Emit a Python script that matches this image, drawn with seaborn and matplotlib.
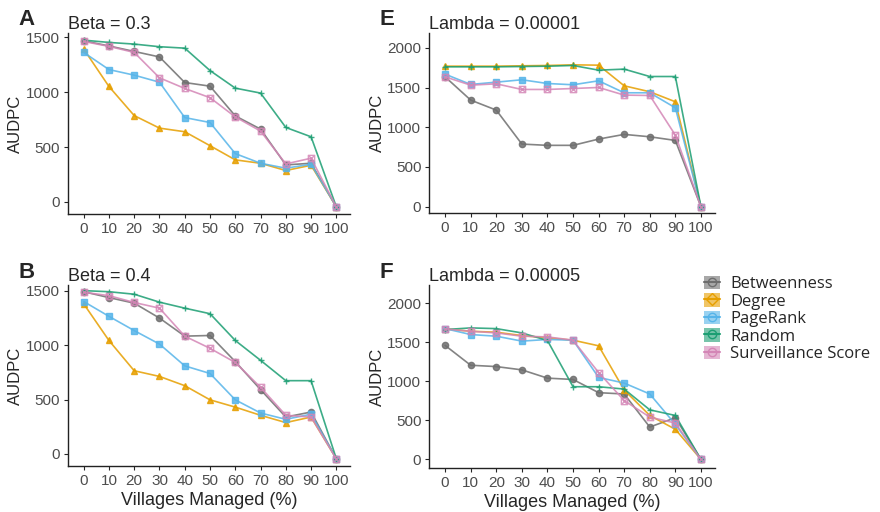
import numpy as np
import pandas as pd
import matplotlib
matplotlib.use('Agg')
import matplotlib.pyplot as plt
from matplotlib.path import Path
from matplotlib.lines import Line2D
from matplotlib.patches import Patch
from matplotlib.legend_handler import HandlerTuple
import seaborn as sns

# ---- data ----
villages = [0, 10, 20, 30, 40, 50, 60, 70, 80, 90, 100]
strategies = ['Betweenness', 'Degree', 'PageRank', 'Random', 'Surveillance Score']

# Panel A: Beta = 0.3
beta03_betweenness = [1467, 1420, 1370, 1320, 1087, 1054, 783, 663, 337, 352, -45]
beta03_degree = [1392, 1051, 786, 672, 639, 512, 383, 352, 286, 334, -45]
beta03_pagerank = [1361, 1205, 1154, 1090, 768, 723, 440, 352, 307, 343, -45]
beta03_random = [1473, 1452, 1437, 1413, 1400, 1196, 1036, 991, 678, 593, -45]
beta03_surveillance = [1461, 1416, 1361, 1130, 1033, 949, 774, 645, 346, 398, -45]

# Panel B: Beta = 0.4
beta04_betweenness = [1490, 1436, 1385, 1248, 1082, 1088, 848, 591, 339, 385, -45]
beta04_degree = [1379, 1042, 764, 712, 627, 497, 430, 355, 288, 339, -45]
beta04_pagerank = [1400, 1264, 1133, 1009, 809, 739, 497, 376, 318, 365, -45]
beta04_random = [1500, 1490, 1467, 1394, 1339, 1288, 1042, 860, 673, 673, -45]
beta04_surveillance = [1485, 1454, 1391, 1339, 1082, 970, 840, 612, 355, 339, -45]

# Panel E: Lambda = 0.00001
lam1_betweenness = [1635, 1342, 1216, 788, 772, 772, 851, 910, 880, 834, 0]
lam1_degree = [1769, 1769, 1769, 1774, 1778, 1786, 1782, 1522, 1447, 1321, 0]
lam1_pagerank = [1669, 1539, 1568, 1598, 1551, 1535, 1585, 1434, 1434, 1245, 0]
lam1_random = [1761, 1761, 1761, 1765, 1769, 1778, 1719, 1732, 1639, 1639, 0]
lam1_surveillance = [1635, 1530, 1547, 1476, 1476, 1488, 1501, 1405, 1400, 901, 0]

# Panel F: Lambda = 0.00005
lam5_betweenness = [1459, 1205, 1188, 1146, 1040, 1023, 854, 837, 414, 533, 0]
lam5_degree = [1670, 1640, 1628, 1585, 1556, 1526, 1454, 888, 562, 385, 0]
lam5_pagerank = [1674, 1598, 1577, 1514, 1535, 1526, 1049, 977, 837, 448, 0]
lam5_random = [1662, 1683, 1674, 1619, 1522, 930, 930, 900, 634, 562, 0]
lam5_surveillance = [1670, 1640, 1619, 1577, 1568, 1526, 1112, 753, 541, 465, 0]

colors = {'Betweenness': '#6e6e6e', 'Degree': '#E69F00', 'PageRank': '#56B4E9',
          'Random': '#1b9e72', 'Surveillance Score': '#d486b6'}

# plus and square-with-x drawn as paths so seaborn treats all markers alike
plus = Path([(-1, 0), (1, 0), (0, -1), (0, 1)],
            [Path.MOVETO, Path.LINETO, Path.MOVETO, Path.LINETO])
boxtimes = Path([(-1, -1), (1, -1), (1, 1), (-1, 1), (-1, -1),
                 (-1, -1), (1, 1), (-1, 1), (1, -1)],
                [Path.MOVETO, Path.LINETO, Path.LINETO, Path.LINETO, Path.CLOSEPOLY,
                 Path.MOVETO, Path.LINETO, Path.MOVETO, Path.LINETO])
markers = {'Betweenness': 'o', 'Degree': '^', 'PageRank': 's',
           'Random': plus, 'Surveillance Score': boxtimes}


def long_df(series):
    rows = []
    for name, vals in zip(strategies, series):
        for x, y in zip(villages, vals):
            rows.append({'Villages': x, 'AUDPC': y, 'Strategy': name})
    return pd.DataFrame(rows)


panels = [
    ('A', 'Beta = 0.3', [beta03_betweenness, beta03_degree, beta03_pagerank, beta03_random, beta03_surveillance],
     [0.077, 0.582, 0.321, 0.354], (-110, 1540), [0, 500, 1000, 1500], False),
    ('B', 'Beta = 0.4', [beta04_betweenness, beta04_degree, beta04_pagerank, beta04_random, beta04_surveillance],
     [0.077, 0.090, 0.321, 0.353], (-110, 1550), [0, 500, 1000, 1500], True),
    ('E', 'Lambda = 0.00001', [lam1_betweenness, lam1_degree, lam1_pagerank, lam1_random, lam1_surveillance],
     [0.4875, 0.584, 0.325, 0.352], (-80, 2190), [0, 500, 1000, 1500, 2000], False),
    ('F', 'Lambda = 0.00005', [lam5_betweenness, lam5_degree, lam5_pagerank, lam5_random, lam5_surveillance],
     [0.4875, 0.086, 0.325, 0.357], (-110, 2230), [0, 500, 1000, 1500, 2000], True),
]

sns.set_style('ticks')
plt.rcParams['font.family'] = ['Liberation Sans', 'DejaVu Sans']

fig = plt.figure(figsize=(8.8, 5.12), dpi=100)

for letter, title, series, pos, ylim, yticks, show_xlabel in panels:
    ax = fig.add_axes(pos)
    df = long_df(series)
    sns.lineplot(data=df, x='Villages', y='AUDPC', hue='Strategy', style='Strategy',
                 palette=colors, markers=markers, dashes=False, legend=False,
                 linewidth=1.2, markersize=4.5, alpha=0.85, ax=ax)
    for line in ax.lines:
        c = line.get_color()
        line.set_markeredgecolor(c)
        line.set_markeredgewidth(1.0)
        if isinstance(line.get_marker(), Path):
            line.set_markerfacecolor('none')
        else:
            line.set_markerfacecolor(c)
    ax.set_xlim(-6.3, 105.5)
    ax.set_ylim(*ylim)
    ax.set_xticks(villages)
    ax.set_yticks(yticks)
    ax.tick_params(labelsize=11, labelcolor='#4d4d4d', length=3, width=0.8, pad=2.5)
    sns.despine(ax=ax)
    for s in ['left', 'bottom']:
        ax.spines[s].set_linewidth(1.0)
        ax.spines[s].set_color('#222222')
    ax.set_ylabel('AUDPC', fontsize=12, labelpad=2)
    if show_xlabel:
        ax.set_xlabel('Villages Managed (%)', fontsize=13, labelpad=3)
    else:
        ax.set_xlabel('')
    ax.set_title(title, loc='left', fontsize=13, pad=3)
    fig.text(pos[0] - 0.056, pos[1] + pos[3] + 0.015, letter, fontsize=16, fontweight='bold')

# legend: shaded box key with the marker drawn on top
handles = []
for name in strategies:
    c = colors[name]
    box = Patch(facecolor=c, alpha=0.6, edgecolor='none')
    mk = Line2D([], [], color=c, marker='o' if name != 'Degree' else 'D', markersize=6,
                markerfacecolor='none', markeredgewidth=1.0, linewidth=1.5)
    handles.append((box, mk))
fig.legend(handles, strategies, handler_map={tuple: HandlerTuple(ndivide=1, pad=0)},
           loc='upper left', bbox_to_anchor=(0.790, 0.478), frameon=False,
           prop={'family': 'Open Sans', 'size': 12}, handlelength=1.0, handleheight=0.9,
           handletextpad=0.6, labelspacing=0.05, borderpad=0)

fig.savefig('out.png', dpi=100)
